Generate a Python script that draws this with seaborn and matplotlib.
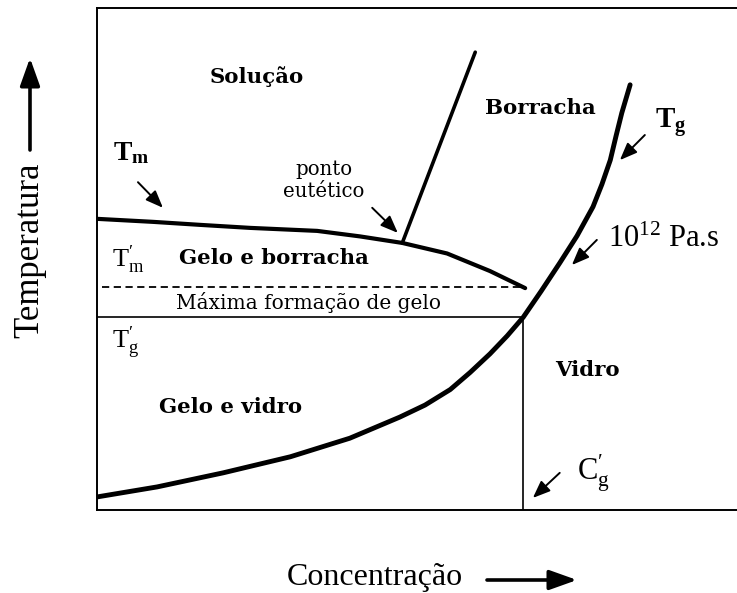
import matplotlib
matplotlib.use("Agg")
import matplotlib.pyplot as plt
import seaborn as sns
import pandas as pd

# Liquidus (Tm) curve: concentration vs temperature, eutectic point included
liquidus_c = [0.0, 8.75, 16.1, 23.9, 34.4, 41.1, 47.7, 54.7, 61.4, 66.9]
liquidus_t = [58.0, 57.4, 56.8, 56.2, 55.6, 54.5, 53.2, 51.1, 47.6, 44.2]

# Solubility line rising from the eutectic point
eutectic_c = [47.7, 59.1]
eutectic_t = [53.2, 91.2]

# Glass transition (Tg) curve, 10^12 Pa.s iso-viscosity
glass_c = [0.0, 9.4, 19.7, 30.2, 39.5, 47.3, 51.25, 55.2, 58.3, 61.4, 64.1,
           66.6, 69.4, 72.3, 75.0, 77.5, 78.9, 80.2, 81.1, 82.0, 83.3]
glass_t = [2.6, 4.6, 7.4, 10.6, 14.3, 18.5, 20.9, 24.0, 27.4, 31.1, 34.7,
           38.4, 43.6, 49.2, 54.6, 60.4, 64.9, 69.7, 74.5, 79.1, 84.7]

# Characteristic points of maximum freeze concentration
tm_prime = 44.4
tg_prime = 38.4
cg_prime = 66.6
dashed_start = 0.8
dashed_end = 66.3

sns.set_theme(style="white")
plt.rcParams["font.family"] = ["DejaVu Serif", "DejaVu Sans"]
plt.rcParams["text.color"] = "black"
plt.rcParams["mathtext.fontset"] = "custom"
plt.rcParams["mathtext.rm"] = "Liberation Serif"
plt.rcParams["mathtext.it"] = "Liberation Serif:italic"
plt.rcParams["mathtext.bf"] = "Liberation Serif:bold"

fig = plt.figure(figsize=(7.37, 5.93), dpi=100)
ax = fig.add_axes([97 / 737, 1 - 510 / 593, 640 / 737, 502 / 593])

liq = pd.DataFrame({"c": liquidus_c, "t": liquidus_t})
eut = pd.DataFrame({"c": eutectic_c, "t": eutectic_t})
gls = pd.DataFrame({"c": glass_c, "t": glass_t})

sns.lineplot(data=liq, x="c", y="t", sort=False, color="black", lw=3.0, ax=ax)
sns.lineplot(data=eut, x="c", y="t", sort=False, color="black", lw=2.6, ax=ax)
sns.lineplot(data=gls, x="c", y="t", sort=False, color="black", lw=3.5, ax=ax)

ax.plot([dashed_start, dashed_end], [tm_prime, tm_prime], color="black",
        lw=1.3, ls=(0, (4, 2.5)))
ax.plot([0, cg_prime], [tg_prime, tg_prime], color="black", lw=1.2)
ax.plot([cg_prime, cg_prime], [0, tg_prime], color="black", lw=1.2)

ax.set_xlim(0, 100)
ax.set_ylim(0, 100)
ax.set_xticks([])
ax.set_yticks([])
ax.set_xlabel("")
ax.set_ylabel("")
for side in ["left", "top", "bottom"]:
    ax.spines[side].set_color("black")
    ax.spines[side].set_linewidth(1.4)
ax.spines["right"].set_visible(False)

# Region names
bold = dict(fontweight="bold", fontsize=15.3, ha="center", va="center",
            family="DejaVu Serif", color="black")
ax.text(25.0, 86.3, "Solução", **bold)
ax.text(69.2, 80.1, "Borracha", **bold)
ax.text(27.7, 50.2, "Gelo e borracha", **bold)
ax.text(20.8, 20.5, "Gelo e vidro", **bold)
ax.text(76.7, 27.9, "Vidro", **bold)

ax.text(33.0, 41.4, "Máxima formação de gelo", fontsize=14.5,
        ha="center", va="center", family="DejaVu Serif", color="black")
ax.text(35.4, 65.7, "ponto\neutético", fontsize=14.2, ha="center",
        va="center", family="DejaVu Serif", linespacing=1.2, color="black")

# Symbols
ax.text(2.5, 69.7, r"$\mathbf{T_m}$", fontsize=20, ha="left", va="baseline")
ax.text(2.3, 48.4, r"$\mathrm{T}^{\prime}_{\mathrm{m}}$", fontsize=19,
        ha="left", va="baseline")
ax.text(2.3, 32.3, r"$\mathrm{T}^{\prime}_{\mathrm{g}}$", fontsize=19,
        ha="left", va="baseline")
ax.text(87.2, 76.1, r"$\mathbf{T_g}$", fontsize=21, ha="left", va="baseline")
ax.text(79.8, 52.4, r"$10^{12}$ Pa.s", fontsize=22, ha="left",
        va="baseline", family="Liberation Serif")
ax.text(75.0, 6.0, r"$\mathrm{C}^{\prime}_{\mathrm{g}}$", fontsize=22,
        ha="left", va="baseline")

# Pointer arrows
pointer = dict(arrowstyle="-|>,head_length=0.75,head_width=0.3",
               color="black", lw=1.4, mutation_scale=14, shrinkA=0, shrinkB=0)
pointers = [
    ((6.4, 65.3), (10.3, 60.2)),
    ((43.0, 60.2), (47.0, 55.2)),
    ((85.6, 74.7), (81.7, 69.7)),
    ((78.1, 53.8), (74.2, 48.8)),
    ((72.3, 7.4), (68.1, 2.4)),
]
for tail, tip in pointers:
    ax.annotate("", xy=tip, xytext=tail, arrowprops=pointer)

# Axis titles with direction arrows
big = dict(arrowstyle="-|>,head_length=1.4,head_width=0.5", color="black",
           lw=2.6, mutation_scale=12, shrinkA=0, shrinkB=0)
fig.text(30 / 737, 1 - 250 / 593, "Temperatura", rotation=90, fontsize=25,
         ha="center", va="center", family="Liberation Serif")
ax.annotate("", xy=(30 / 737, 1 - 58 / 593), xytext=(30 / 737, 1 - 150 / 593),
            xycoords="figure fraction", textcoords="figure fraction",
            arrowprops=big, annotation_clip=False)
fig.text(375 / 737, 1 - 577 / 593, "Concentração", fontsize=23,
         ha="center", va="center", family="Liberation Serif")
ax.annotate("", xy=(577 / 737, 1 - 580 / 593), xytext=(487 / 737, 1 - 580 / 593),
            xycoords="figure fraction", textcoords="figure fraction",
            arrowprops=big, annotation_clip=False)

fig.savefig("out.png", dpi=100, facecolor="white")
